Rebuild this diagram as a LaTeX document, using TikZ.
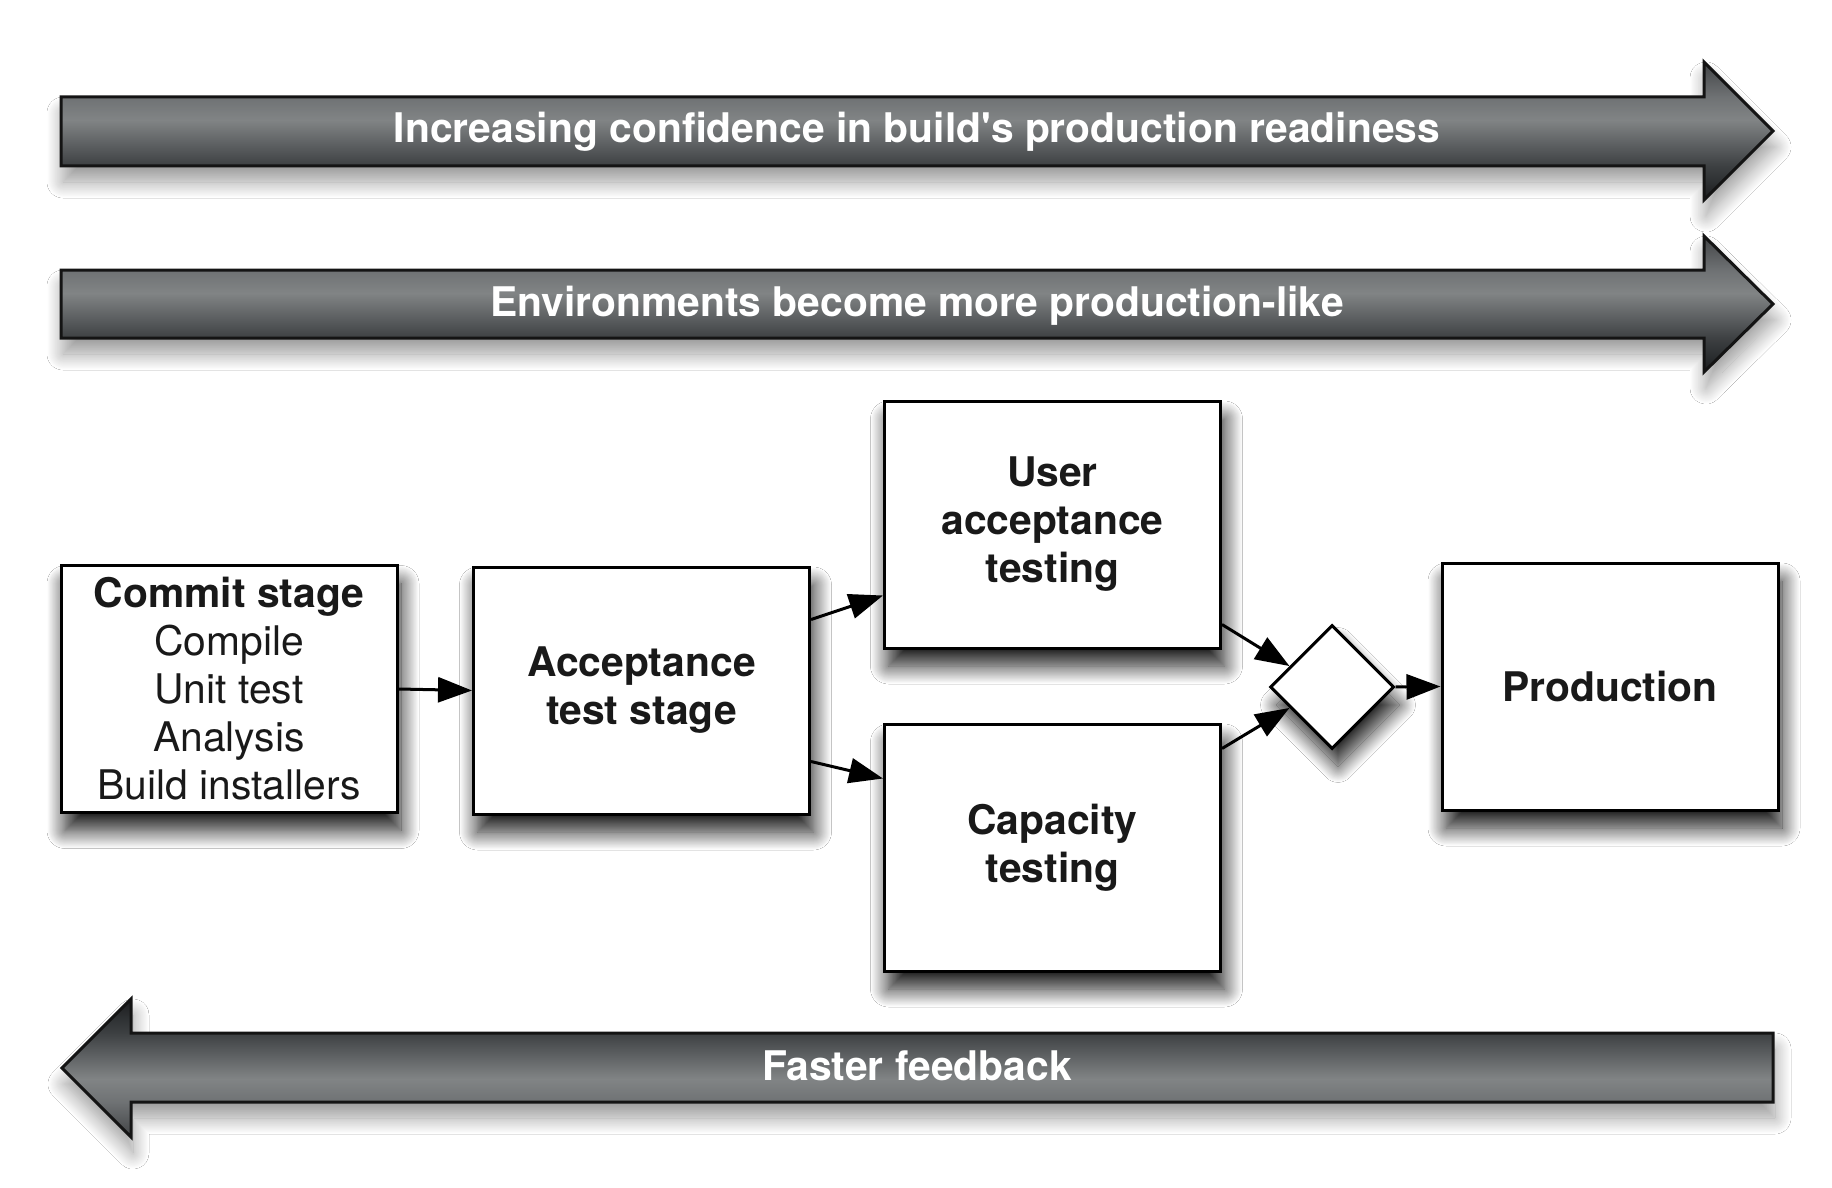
\documentclass[tikz,border=0pt]{standalone}
\usepackage{fontspec}
\setmainfont{TeX Gyre Heros}[Ligatures=TeXOff]
\usetikzlibrary{shapes.geometric,arrows.meta,shadows.blur,calc}
\definecolor{shA}{HTML}{1B1D1F}
\definecolor{shB}{HTML}{3D4042}
\definecolor{shC}{HTML}{5F6264}
\definecolor{shD}{HTML}{818485}
\definecolor{shE}{HTML}{6F7274}
\definecolor{shF}{HTML}{424446}
\pgfdeclareverticalshading{arrowshade}{100bp}{color(0bp)=(shA); color(25bp)=(shA); color(37.3bp)=(shB); color(45.7bp)=(shC); color(54bp)=(shD); color(62.3bp)=(shE); color(75bp)=(shF); color(100bp)=(shF)}
\tikzset{
  bigarrow/.style={draw=black!92, line width=1.5pt, shade, shading=arrowshade,
    blur shadow={shadow xshift=1pt, shadow yshift=-8pt, shadow blur radius=8pt, shadow opacity=40, shadow blur steps=24}},
  bandtext/.style={anchor=base, text=white, inner sep=0pt, font=\fontsize{20.4}{24}\selectfont\bfseries},
  box/.style={draw=black, line width=1.5pt, fill=white, minimum width=168pt, minimum height=123.5pt,
    inner sep=0pt, align=center, text=black!90, font=\fontsize{20.4}{24}\selectfont\bfseries,
    blur shadow={shadow xshift=2pt, shadow yshift=-9pt, shadow blur radius=9pt, shadow opacity=90, shadow blur steps=24}},
  gate/.style={diamond, aspect=1, draw=black, line width=1.5pt, fill=white, minimum width=62pt, minimum height=62pt,
    inner sep=0pt,
    blur shadow={shadow xshift=3pt, shadow yshift=-9pt, shadow blur radius=8pt, shadow opacity=85, shadow blur steps=24}},
  conn/.style={draw=black, line width=1.5pt, -{Triangle[length=17pt,width=12.5pt]}},
}
\begin{document}
\begin{tikzpicture}[x=0.5pt,y=-0.5pt]
\useasboundingbox (0,0) rectangle (1832,1188);
\fill[white] (0,0) rectangle (1832,1188);

% big band arrows
\path[bigarrow] (61,97) -- (1704,97) -- (1704,62) -- (1773,131) -- (1704,200) -- (1704,166) -- (61,166) -- cycle;
\node[bandtext] (band1) at (917,143) {Increasing confidence in build's production readiness};

\path[bigarrow] (61,270) -- (1704,270) -- (1704,236) -- (1773,304) -- (1704,372) -- (1704,338) -- (61,338) -- cycle;
\node[bandtext] (band2) at (917,316) {Environments become more production-like};

\path[bigarrow, shading angle=180] (1773,1033) -- (131,1033) -- (131,999) -- (62,1068) -- (131,1137) -- (131,1102) -- (1773,1102) -- cycle;
\node[bandtext] (band3) at (917,1080) {Faster feedback};

% stage boxes
\node[box, font=\fontsize{20.4}{24}\selectfont] (commit) at (229,689)
  {\textbf{Commit stage}\\Compile\\Unit test\\Analysis\\Build installers};
\node[box] (accept) at (641.5,690.5) {Acceptance\\test stage};
\node[box] (uat) at (1052.5,524.5) {User\\acceptance\\testing};
\node[box] (cap) at (1052.5,847.5) {Capacity\\testing};
\node[gate] (join) at (1332,687) {};
\node[box] (prod) at (1610,686.5) {Production};

% connectors
\draw[conn] (commit.east) -- (accept.west);
\draw[conn] ([yshift=-27pt]accept.north east) -- ([yshift=27pt]uat.south west);
\draw[conn] ([yshift=27pt]accept.south east) -- ([yshift=-28pt]cap.north west);
\draw[conn] ([yshift=12.5pt]uat.south east) -- ($(join.west)!0.33!(join.north)$);
\draw[conn] ([yshift=-13pt]cap.north east) -- ($(join.west)!0.33!(join.south)$);
\draw[conn] (join.east) -- (prod.west);
\end{tikzpicture}
\end{document}
